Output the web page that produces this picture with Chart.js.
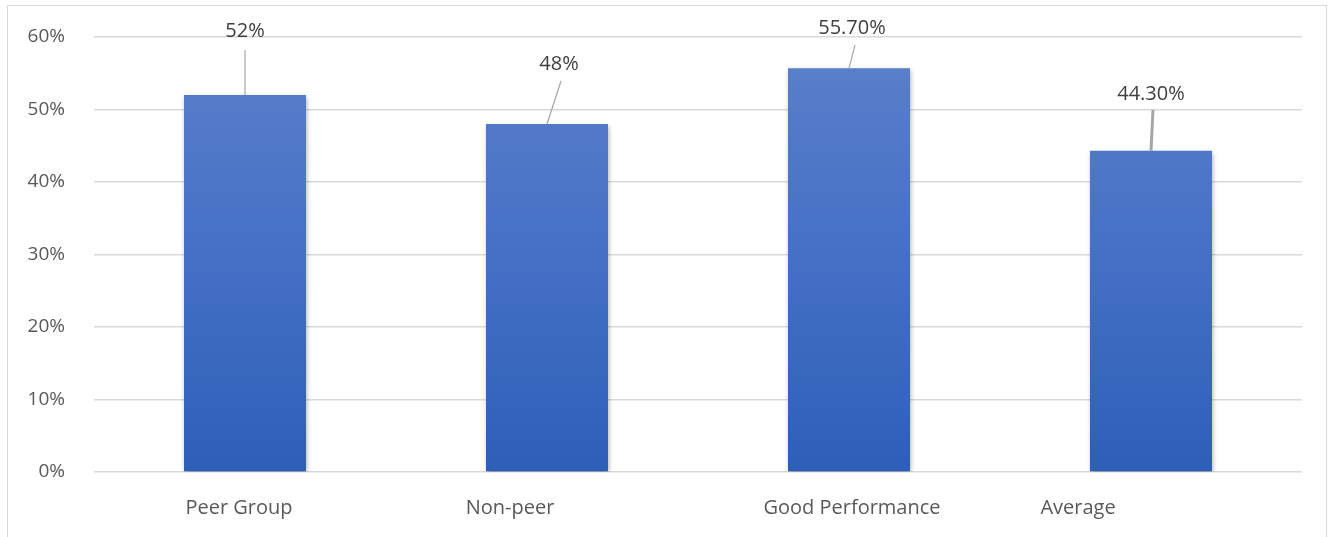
<!DOCTYPE html>
<html>
<head>
<meta charset="utf-8">
<script src="https://cdn.jsdelivr.net/npm/chart.js@4/dist/chart.umd.min.js"></script>
<style>
  html, body { margin: 0; padding: 0; background: #ffffff; }
  #frame { position: absolute; left: 7px; top: 5px; width: 1320px; height: 560px; border: 1px solid #d9d9d9; box-sizing: border-box; }
  #wrap { position: absolute; left: 0; top: 0; width: 1335px; height: 537px; }
</style>
</head>
<body>
<div id="frame"></div>
<div id="wrap"><canvas id="c" width="1335" height="537"></canvas></div>
<script>
const categories = ["Peer Group", "Non-peer", "Good Performance", "Average"];
const values = [52, 48, 55.7, 44.3];
const valueLabels = ["52%", "48%", "55.70%", "44.30%"];
const yTicks = [0, 10, 20, 30, 40, 50, 60];

const FONT = "'Open Sans', 'Liberation Sans', sans-serif";

// label placement (pixel offsets relative to the bar top) – styling only
const labelPlacement = [
  { dx: 0, dy: -64, lx1: 0, ly1: -45, lineW: 1.2 },
  { dx: 12, dy: -60, lx1: 14, ly1: -43, lineW: 1.2 },
  { dx: 3, dy: -40, lx1: 6, ly1: -23, lineW: 1.2 },
  { dx: 0, dy: -57, lx1: 2, ly1: -41, lineW: 3 }
];
const xLabelShift = [-6, -37, 3, -73];

const barShadow = {
  id: 'barShadow',
  beforeDatasetsDraw(chart) {
    const ctx = chart.ctx;
    ctx.save();
    ctx.shadowColor = 'rgba(0,0,0,0.35)';
    ctx.shadowBlur = 5;
    ctx.shadowOffsetX = 1;
    ctx.shadowOffsetY = 2;
  },
  afterDatasetsDraw(chart) {
    chart.ctx.restore();
  }
};

const labelsPlugin = {
  id: 'labelsPlugin',
  afterDraw(chart) {
    const ctx = chart.ctx;
    const meta = chart.getDatasetMeta(0);
    const xs = chart.scales.x;
    ctx.save();
    meta.data.forEach((bar, i) => {
      const p = labelPlacement[i];
      const bx = bar.x, by = bar.y;
      ctx.strokeStyle = '#a6a6a6';
      ctx.lineWidth = p.lineW;
      ctx.beginPath();
      ctx.moveTo(bx + p.lx1, by + p.ly1);
      ctx.lineTo(bx, by);
      ctx.stroke();
      ctx.fillStyle = '#404040';
      ctx.font = "20px " + FONT;
      ctx.textAlign = 'center';
      ctx.textBaseline = 'middle';
      ctx.fillText(valueLabels[i], bx + p.dx, by + p.dy);
    });
    ctx.fillStyle = '#595959';
    ctx.font = "20px " + FONT;
    ctx.textAlign = 'center';
    ctx.textBaseline = 'middle';
    categories.forEach((c, i) => {
      const x = xs.getPixelForValue(i) + xLabelShift[i];
      ctx.fillText(c, x, 508);
    });
    ctx.restore();
  }
};

new Chart(document.getElementById('c'), {
  type: 'bar',
  data: {
    labels: categories,
    datasets: [{
      data: values,
      backgroundColor(context) {
        const ca = context.chart.chartArea;
        if (!ca) return '#4472c4';
        const g = context.chart.ctx.createLinearGradient(0, ca.top, 0, ca.bottom);
        g.addColorStop(0, '#5c80ca');
        g.addColorStop(0.5, '#4570c6');
        g.addColorStop(1, '#2d5fb8');
        return g;
      },
      borderWidth: 0,
      barPercentage: 0.404,
      categoryPercentage: 1.0
    }]
  },
  options: {
    responsive: false,
    animation: false,
    events: [],
    layout: { padding: { left: 0, right: 33, top: 37, bottom: 0 } },
    plugins: { legend: { display: false }, tooltip: { enabled: false } },
    scales: {
      x: {
        grid: { display: false },
        border: { display: false },
        ticks: { display: false },
        afterFit(scale) { scale.height = 65; scale.paddingLeft = 0; scale.paddingRight = 0; }
      },
      y: {
        min: 0,
        max: 60,
        afterBuildTicks(scale) { scale.ticks = yTicks.map(v => ({ value: v })); },
        afterFit(scale) { scale.width = 94; scale.paddingTop = 0; scale.paddingBottom = 0; },
        grid: { color: '#d9d9d9', lineWidth: 1.5, drawTicks: false },
        border: { display: false },
        ticks: {
          padding: 29,
          color: '#595959',
          font: { family: FONT, size: 19 },
          callback: v => v + '%'
        }
      }
    }
  },
  plugins: [barShadow, labelsPlugin]
});
</script>
</body>
</html>
